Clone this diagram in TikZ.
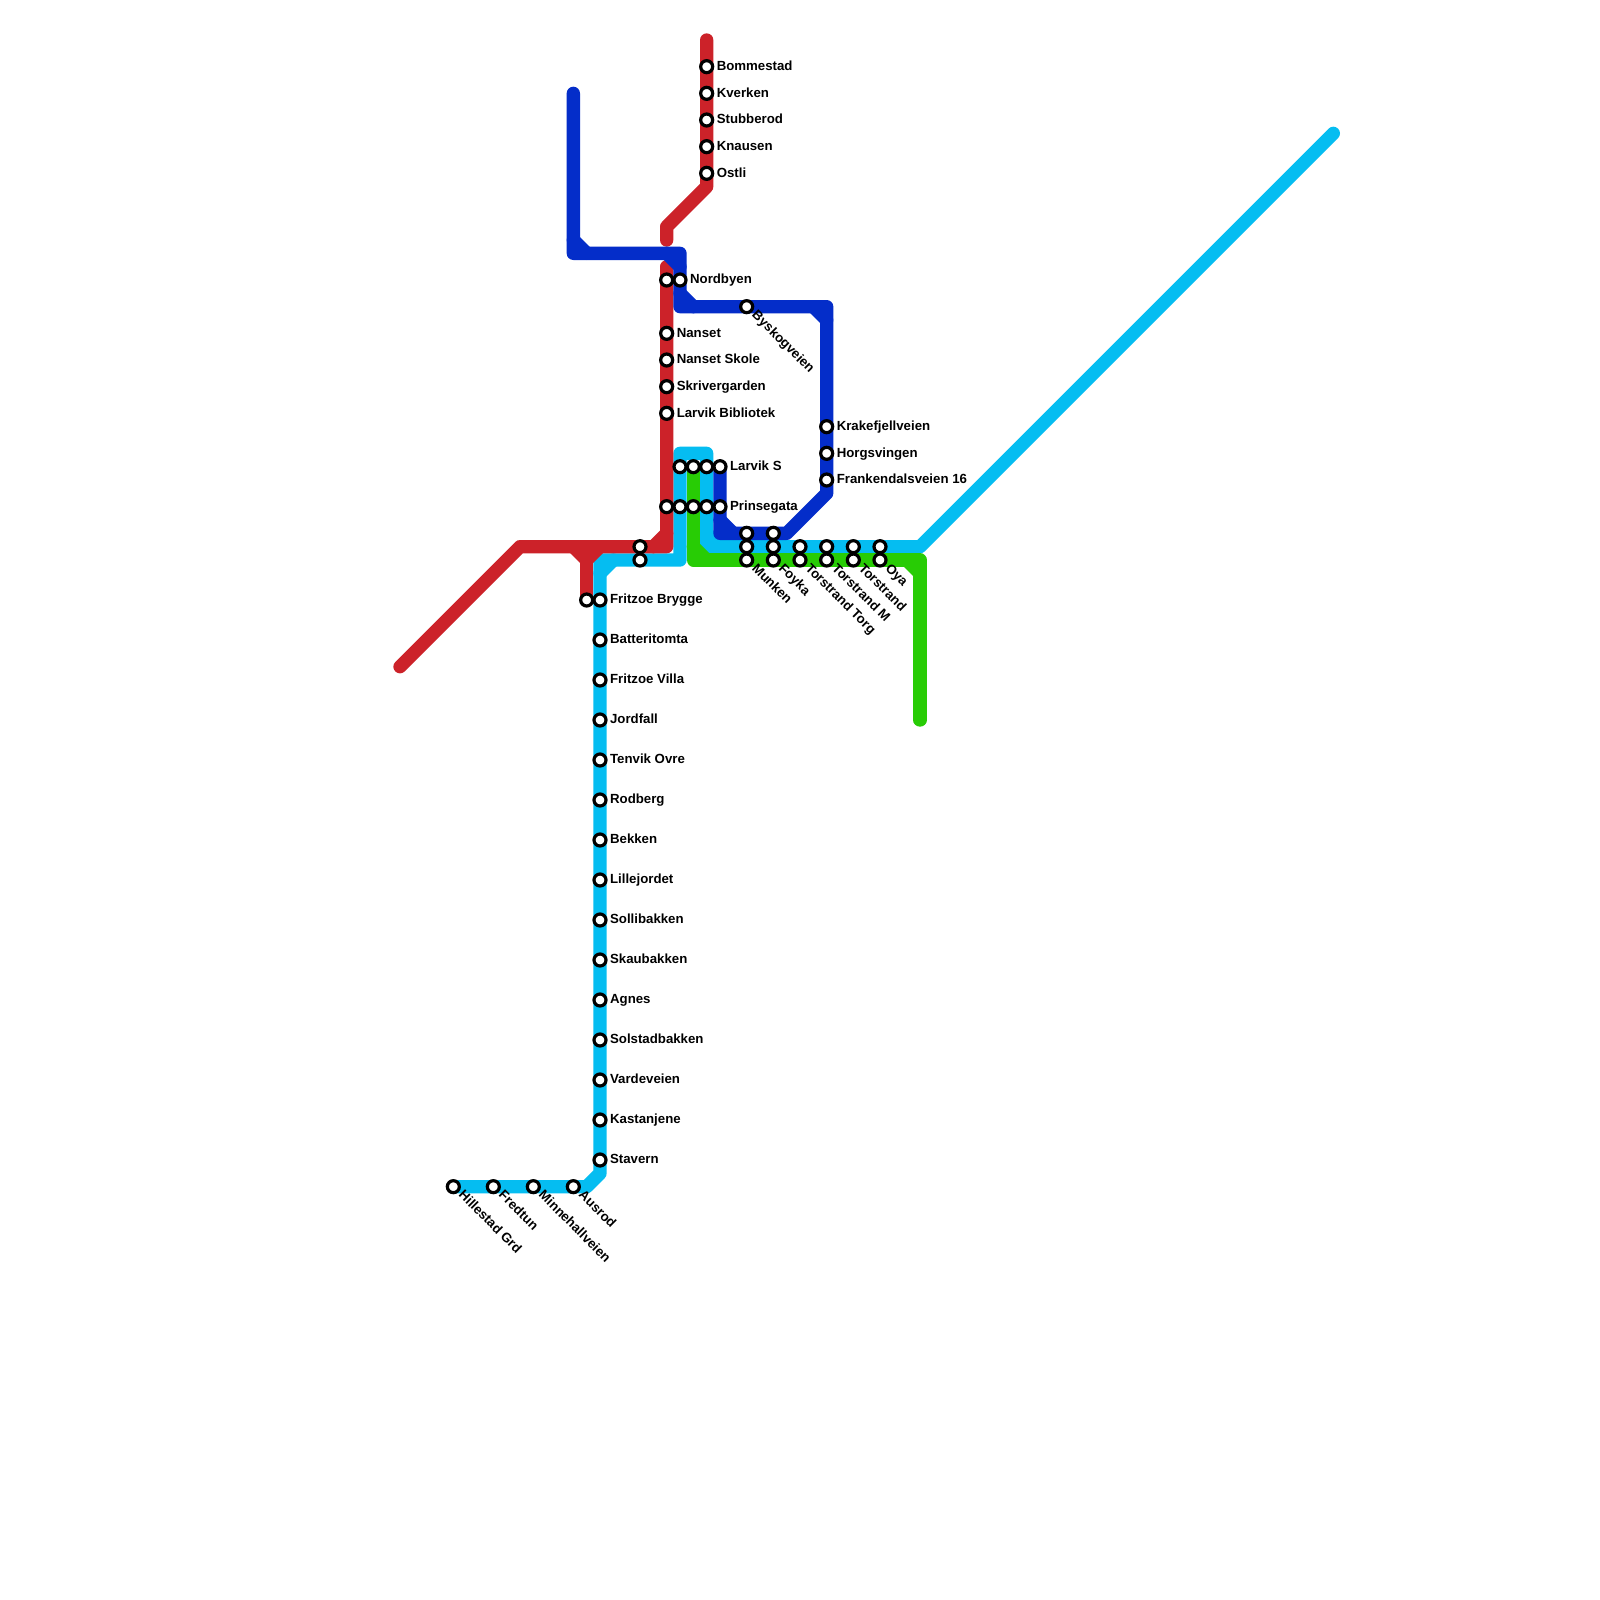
\documentclass[tikz,border=0pt]{standalone}
\usepackage{fontspec}
\setmainfont{Liberation Sans}
\definecolor{mred}{HTML}{CC2229}
\definecolor{mblue}{HTML}{042DC9}
\definecolor{mcyan}{HTML}{05BDF1}
\definecolor{mgreen}{HTML}{28CC05}
\tikzset{
  railway/.style={line width=6.667pt,line cap=round,line join=round},
  redline/.style={railway,draw=mred},
  blueline/.style={railway,draw=mblue},
  cyanline/.style={railway,draw=mcyan},
  greenline/.style={railway,draw=mgreen},
  stn/.style={circle,draw=black,fill=white,line width=1.6pt,minimum size=6pt,inner sep=0pt,outer sep=0pt},
  lbl/.style={font=\fontsize{6.62}{8}\selectfont\bfseries,text=black,inner sep=0pt,outer sep=0pt,anchor=base west},
  lblr/.style={lbl},
  lbld/.style={lbl,rotate=-45}
}
\newcommand\stnr[4]{\node[stn] (#1) at (#2,#3) {};\node[lblr] (#1t) at ([xshift=5.05pt,yshift=-1.9pt]#1.center) {#4};}
\newcommand\stnd[4]{\node[stn] (#1) at (#2,#3) {};\node[lbld] (#1t) at ([xshift=2.4pt,yshift=-4.6pt]#1.center) {#4};}
\newcommand\stnp[3]{\node[stn] (#1) at (#2,#3) {};}
\begin{document}
\begin{tikzpicture}[x=6.6667pt,y=-6.6667pt]
\useasboundingbox (0,0) rectangle (120,120);
\fill[white] (0,0) rectangle (120,120);
% way points
\coordinate (ca) at (34,89); \coordinate (cb) at (44,89); \coordinate (cc) at (45,88);
\coordinate (cd) at (45,42); \coordinate (cf) at (51,42);
\coordinate (cg) at (51,34); \coordinate (ch) at (53,34); \coordinate (ci) at (53,41);
\coordinate (cj) at (69,41); \coordinate (ck) at (100,10);
\coordinate (ra) at (30,50); \coordinate (rb) at (39,41); \coordinate (rc) at (50,41);
\coordinate (rd) at (50,20); \coordinate (re) at (50,18); \coordinate (rf) at (50,17);
\coordinate (rg) at (53,14); \coordinate (rh) at (53,3);
\coordinate (ri) at (44,42); \coordinate (rj) at (44,45);
\coordinate (ba) at (43,7); \coordinate (bb) at (43,19); \coordinate (bc) at (51,19);
\coordinate (bd) at (51,23); \coordinate (be) at (62,23); \coordinate (bf) at (62,37);
\coordinate (bg) at (59,40); \coordinate (bh) at (54,40); \coordinate (bi) at (54,35);
\coordinate (ga) at (52,35); \coordinate (gb) at (52,42); \coordinate (gc) at (69,42);
\coordinate (gd) at (69,54);
% cyan
\draw[cyanline] (ca)--(cb)--(cc)--(cd)--(cf)--(cg)--(ch)--(ci)--(cj)--(ck);
\draw[cyanline] (ci) ++(0,-1) -- ++(1,1);
\draw[cyanline] (cd) ++(0,1) -- ++(1,-1);
% red
\draw[redline] (ra)--(rb)--(rc)--(rd);
\draw[redline] (re)--(rf)--(rg)--(rh);
\draw[redline] (ri) ++(-1,-1) -- (ri) -- ++(1,-1);
\draw[redline] (ri)--(rj);
\draw[redline] (rc) ++(-1,0) -- ++(1,-1);
% blue
\draw[blueline] (ba)--(bb)--(bc)--(bd)--(be)--(bf)--(bg)--(bh)--(bi);
\draw[blueline] (bb) ++(0,-1) -- ++(1,1);
\draw[blueline] (bc) ++(-1,0) -- ++(1,1);
\draw[blueline] (bd) ++(0,-1) -- ++(1,1);
\draw[blueline] (be) ++(-1,0) -- ++(1,1);
\draw[blueline] (bh) ++(0,-1) -- ++(1,1);
% green
\draw[greenline] (ga)--(gb)--(gc)--(gd);
\draw[greenline] (gb) ++(0,-1) -- ++(1,1);
\draw[greenline] (gc) ++(-1,0) -- ++(1,1);
% stations
\stnr{s1}{53}{5}{Bommestad}
\stnr{s2}{53}{7}{Kverken}
\stnr{s3}{53}{9}{Stubberod}
\stnr{s4}{53}{11}{Knausen}
\stnr{s5}{53}{13}{Ostli}
\stnp{n0}{50}{21}
\stnr{n1}{51}{21}{Nordbyen}
\stnr{n2}{50}{25}{Nanset}
\stnr{n3}{50}{27}{Nanset Skole}
\stnr{n4}{50}{29}{Skrivergarden}
\stnr{n5}{50}{31}{Larvik Bibliotek}
\stnp{l1}{51}{35}
\stnp{l2}{52}{35}
\stnp{l3}{53}{35}
\stnr{l4}{54}{35}{Larvik S}
\stnp{p1}{50}{38}
\stnp{p2}{51}{38}
\stnp{p3}{52}{38}
\stnp{p4}{53}{38}
\stnr{p5}{54}{38}{Prinsegata}
\stnp{u1}{48}{41}
\stnp{u2}{48}{42}
\stnp{f0}{44}{45}
\stnr{f1}{45}{45}{Fritzoe Brygge}
\stnr{f2}{45}{48}{Batteritomta}
\stnr{f3}{45}{51}{Fritzoe Villa}
\stnr{f4}{45}{54}{Jordfall}
\stnr{f5}{45}{57}{Tenvik Ovre}
\stnr{f6}{45}{60}{Rodberg}
\stnr{f7}{45}{63}{Bekken}
\stnr{f8}{45}{66}{Lillejordet}
\stnr{f9}{45}{69}{Sollibakken}
\stnr{f10}{45}{72}{Skaubakken}
\stnr{f11}{45}{75}{Agnes}
\stnr{f12}{45}{78}{Solstadbakken}
\stnr{f13}{45}{81}{Vardeveien}
\stnr{f14}{45}{84}{Kastanjene}
\stnr{f15}{45}{87}{Stavern}
\stnd{h1}{34}{89}{Hillestad Grd}
\stnd{h2}{37}{89}{Fredtun}
\stnd{h3}{40}{89}{Minnehallveien}
\stnd{h4}{43}{89}{Ausrod}
\stnd{b1}{56}{23}{Byskogveien}
\stnr{k1}{62}{32}{Krakefjellveien}
\stnr{k2}{62}{34}{Horgsvingen}
\stnr{k3}{62}{36}{Frankendalsveien 16}
\stnp{m1}{56}{40}
\stnp{m2}{56}{41}
\stnd{m3}{56}{42}{Munken}
\stnp{y1}{58}{40}
\stnp{y2}{58}{41}
\stnd{y3}{58}{42}{Foyka}
\stnp{t1}{60}{41}
\stnd{t2}{60}{42}{Torstrand Torg}
\stnp{t3}{62}{41}
\stnd{t4}{62}{42}{Torstrand M}
\stnp{t5}{64}{41}
\stnd{t6}{64}{42}{Torstrand}
\stnp{o1}{66}{41}
\stnd{o2}{66}{42}{Oya}
\end{tikzpicture}
\end{document}
